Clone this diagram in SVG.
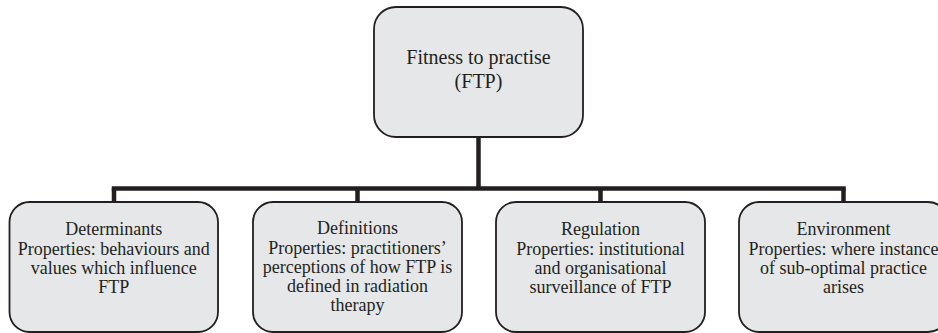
<svg xmlns="http://www.w3.org/2000/svg" width="938" height="333" viewBox="0 0 938 333">
<style>
.box{fill:#e6e7e8;stroke:#231f20;stroke-width:1.8}
.t{font-family:"Liberation Serif","Times New Roman",serif;font-size:18px;fill:#231f20;text-anchor:middle}
.tt{font-size:20px}
.c{fill:none;stroke:#231f20;stroke-width:4.5;stroke-linecap:butt}
</style>
<rect width="938" height="333" fill="#ffffff"/>
<g id="connectors">
<path class="c" d="M478.5 137 V188.5"/>
<path class="c" d="M111.75 188.5 H845.75"/>
<path class="c" d="M114 188.5 V202"/>
<path class="c" d="M357.5 188.5 V202"/>
<path class="c" d="M600.5 188.5 V202"/>
<path class="c" d="M843.5 188.5 V202"/>
</g>
<g id="ftp">
<rect class="box" x="374" y="7" width="209" height="130" rx="22"/>
<text class="t tt"><tspan x="478.5" y="64">Fitness to practise</tspan><tspan x="478.5" y="88">(FTP)</tspan></text>
</g>
<g id="determinants">
<rect class="box" x="9.5" y="202" width="208.5" height="130" rx="20"/>
<text class="t"><tspan x="113.75" y="235">Determinants</tspan><tspan x="113.75" y="254.5">Properties: behaviours and</tspan><tspan x="113.75" y="273.5">values which influence</tspan><tspan x="113.75" y="292.5">FTP</tspan></text>
</g>
<g id="definitions">
<rect class="box" x="253" y="202" width="209" height="130" rx="20"/>
<text class="t"><tspan x="357.5" y="234">Definitions</tspan><tspan x="357.5" y="253.5">Properties: practitioners’</tspan><tspan x="357.5" y="272.5">perceptions of how FTP is</tspan><tspan x="357.5" y="291.5">defined in radiation</tspan><tspan x="357.5" y="310.5">therapy</tspan></text>
</g>
<g id="regulation">
<rect class="box" x="496" y="202" width="209" height="130" rx="20"/>
<text class="t"><tspan x="600.5" y="235">Regulation</tspan><tspan x="600.5" y="254.5">Properties: institutional</tspan><tspan x="600.5" y="273.5">and organisational</tspan><tspan x="600.5" y="292.5">surveillance of FTP</tspan></text>
</g>
<g id="environment">
<rect class="box" x="739" y="202" width="209" height="130" rx="20"/>
<text class="t"><tspan x="843.5" y="235">Environment</tspan><tspan x="843.5" y="254.5">Properties: where instance</tspan><tspan x="843.5" y="273.5">of sub-optimal practice</tspan><tspan x="843.5" y="292.5">arises</tspan></text>
</g>
</svg>
